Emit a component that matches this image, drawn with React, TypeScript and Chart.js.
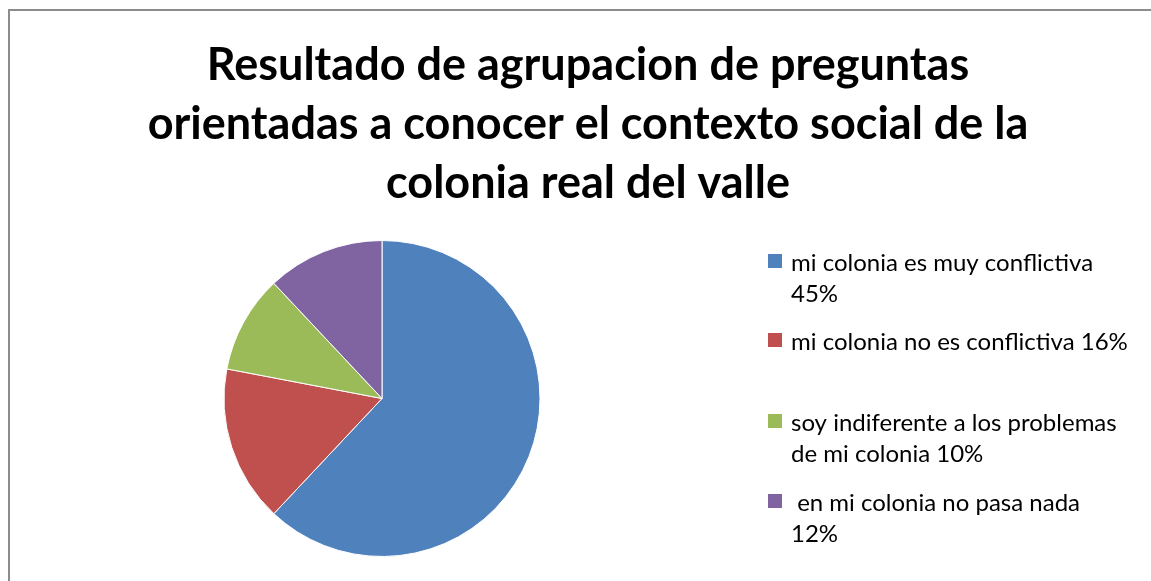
import React, { useEffect, useRef } from "react";
import { Chart, registerables, layouts } from "chart.js";

Chart.register(...registerables);

const titleLines = [
  "Resultado de agrupacion de preguntas",
  "orientadas a conocer el contexto social de la",
  "colonia real del valle",
];

const categories = [
  "mi colonia es muy conflictiva 45%",
  "mi colonia no es conflictiva 16%",
  "soy indiferente a los problemas de mi colonia 10%",
  " en mi colonia no pasa nada 12%",
];

const legendLines = [
  ["mi colonia es muy conflictiva", "45%"],
  ["mi colonia no es conflictiva 16%"],
  ["soy indiferente a los problemas", "de mi colonia 10%"],
  [" en mi colonia no pasa nada", "12%"],
];

const sliceValues = [62, 16, 10, 12];

const sliceColors = ["#4F81BD", "#C0504D", "#9BBB59", "#8064A2"];

const LEGEND_FONT = "24px Lato";
const itemFirstLineY = [263, 342, 423, 503];
const LINE_GAP = 31;

function makeLegendBox(chart: any) {
  const box: any = {
    position: "right",
    weight: 0,
    fullSize: false,
    options: {},
    left: 0,
    top: 0,
    right: 0,
    bottom: 0,
    width: 0,
    height: 0,
    isHorizontal() {
      return false;
    },
    update(maxWidth: number, maxHeight: number) {
      box.width = 412;
      box.height = maxHeight;
    },
    draw() {
      const ctx = chart.ctx;
      ctx.save();
      const sq = 14;
      const sqX = box.left + 29;
      const textX = box.left + 52;
      ctx.font = LEGEND_FONT;
      ctx.textBaseline = "middle";
      ctx.textAlign = "left";
      legendLines.forEach((lines, i) => {
        const y0 = itemFirstLineY[i];
        ctx.fillStyle = sliceColors[i];
        ctx.fillRect(sqX, y0 - 9, sq, sq);
        ctx.fillStyle = "#000";
        lines.forEach((line, j) => {
          ctx.fillText(line, textX, y0 + j * LINE_GAP);
        });
      });
      ctx.restore();
    },
  };
  return box;
}

const customLegend = {
  id: "customLegend",
  beforeInit(chart: any) {
    layouts.addBox(chart, makeLegendBox(chart));
  },
};

export default function App() {
  const ref = useRef<HTMLCanvasElement>(null);
  useEffect(() => {
    if (!ref.current) return;
    const chart = new Chart(ref.current, {
      type: "pie",
      data: {
        labels: categories,
        datasets: [
          {
            data: sliceValues,
            backgroundColor: sliceColors,
            borderColor: "#ffffff",
            borderWidth: 1,
          },
        ],
      },
      options: {
        animation: false,
        responsive: false,
        devicePixelRatio: 1,
        layout: { padding: { left: 25, top: 0, right: 0, bottom: 24 } },
        plugins: {
          legend: { display: false },
          tooltip: { enabled: false },
          title: {
            display: true,
            text: titleLines,
            color: "#000",
            font: { family: "Lato", size: 45, weight: "bold", lineHeight: "59px" },
            padding: { top: 35.5, bottom: 27.5 },
          },
        },
      },
      plugins: [customLegend],
    });
    return () => chart.destroy();
  }, []);
  return (
    <div
      style={{
        position: "fixed",
        left: 0,
        top: 0,
        width: 1151,
        height: 581,
        overflow: "hidden",
        background: "#fff",
      }}
    >
      <div
        style={{
          position: "absolute",
          left: 8,
          top: 9,
          width: 1300,
          height: 700,
          border: "2px solid #8c8c8c",
        }}
      />
      <canvas
        ref={ref}
        width={1151}
        height={581}
        style={{ position: "absolute", left: 0, top: 0, width: 1151, height: 581 }}
      />
    </div>
  );
}
